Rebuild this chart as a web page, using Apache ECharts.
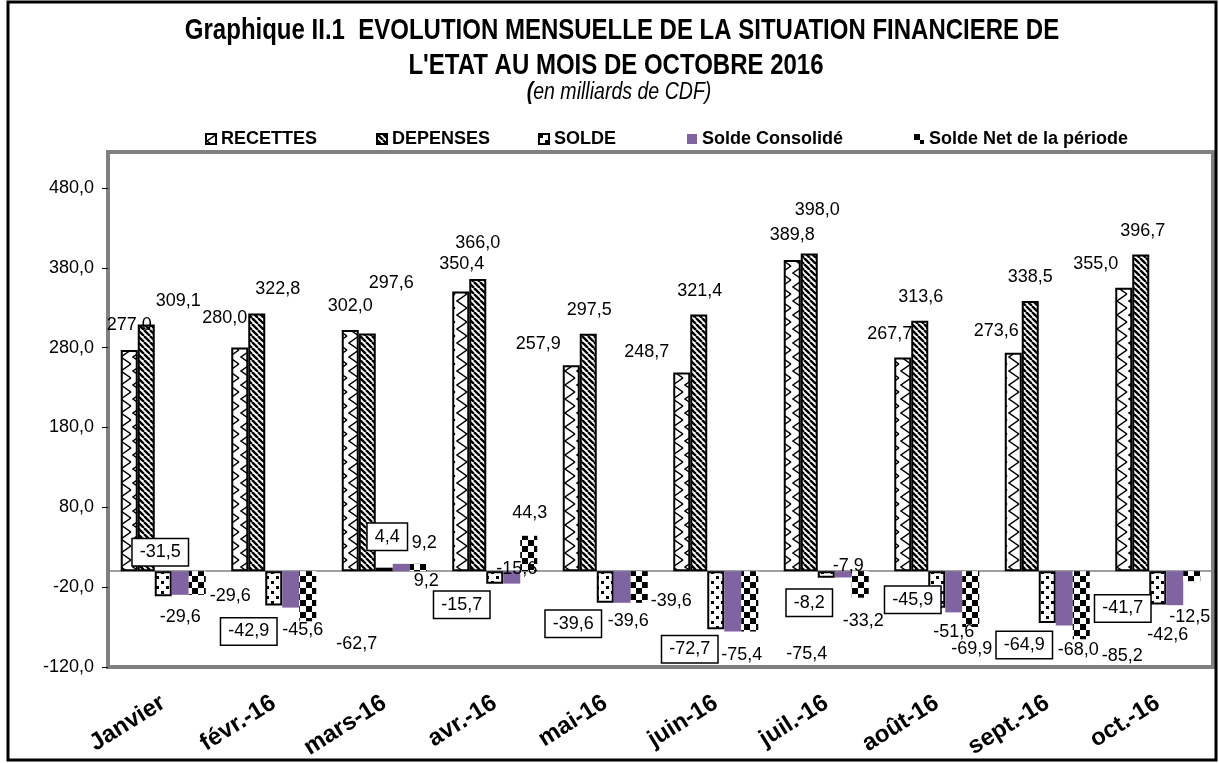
<!DOCTYPE html>
<html>
<head>
<meta charset="utf-8">
<title>Graphique II.1</title>
<script src="https://cdn.jsdelivr.net/npm/echarts@6/dist/echarts.min.js"></script>
<style>
  html, body { margin: 0; padding: 0; background: #fff; }
  #chart { width: 1219px; height: 763px; }
</style>
</head>
<body>
<div id="chart"></div>
<script>
// données (en milliards de CDF)
const months = ["Janvier", "févr.-16", "mars-16", "avr.-16", "mai-16", "juin-16", "juil.-16", "août-16", "sept.-16", "oct.-16"];
const recettes = [277.0, 280.0, 302.0, 350.4, 257.9, 248.7, 389.8, 267.7, 273.6, 355.0];
const depenses = [309.1, 322.8, 297.6, 366.0, 297.5, 321.4, 398.0, 313.6, 338.5, 396.7];
const solde = [-31.5, -42.9, 4.4, -15.7, -39.6, -72.7, -8.2, -45.9, -64.9, -41.7];
const soldeConsolide = [-29.6, -45.6, 9.2, -15.6, -39.6, -75.4, -7.9, -51.6, -68.0, -42.6];
const soldeNet = [-29.6, -62.7, 9.2, 44.3, -39.6, -75.4, -33.2, -69.9, -85.2, -12.5];
const yTicks = [-120, -20, 80, 180, 280, 380, 480];

// label placement (px from the end of each bar), as moved by hand in the original
const offRecettes = [[0, -25], [-15, -30], [0, -24], [1, -27], [-33, -21], [-35, -21], [0, -25], [-13, -23], [-17, -22], [-28, -24]];
const offDepenses = [[32, -23], [21, -24], [24, -51], [0, -36], [1, -24], [1, -24], [8, -43], [1, -24], [0, -24], [2, -23]];
const offSolde = [[-3, -44], [-25, 26], [3, -31], [-33, 21], [-32, 21], [-26, 20], [-17, 25], [-24, -8], [-23, 22], [-35, 4]];
const offConsolide = [[0, 22], [12, 22], [23, -21], [5, -15], [6, 18], [9, 24], [5, -11], [0, 20], [14, 25], [-7, 30]];
const offNet = [[33, 1], [49, 23], [8, 17], [1, -23], [32, -2], [57, 23], [3, 23], [1, 22], [41, 17], [-2, 36]];

const FONT = '"Liberation Sans", Arial, sans-serif';

function fmt(v) {
  return v.toFixed(1).replace('.', ',');
}

function tile(w, h, draw) {
  const c = document.createElement('canvas');
  c.width = w;
  c.height = h;
  const ctx = c.getContext('2d');
  ctx.fillStyle = '#fff';
  ctx.fillRect(0, 0, w, h);
  ctx.fillStyle = '#000';
  ctx.strokeStyle = '#000';
  draw(ctx);
  return { image: c, repeat: 'repeat' };
}

const zigzag = tile(12, 14, ctx => {
  ctx.lineWidth = 1.5;
  ctx.beginPath();
  ctx.moveTo(11, 0);
  ctx.lineTo(1, 7);
  ctx.lineTo(11, 14);
  ctx.stroke();
});
const stripes = tile(6, 6, ctx => {
  ctx.lineWidth = 2.4;
  ctx.beginPath();
  [-6, 0, 6].forEach(k => {
    ctx.moveTo(k, 0);
    ctx.lineTo(k + 6, 6);
  });
  ctx.stroke();
});
const dots = tile(10, 10, ctx => {
  ctx.fillRect(1, 1, 3, 3);
  ctx.fillRect(6, 6, 3, 3);
});
const checker = tile(12, 12, ctx => {
  ctx.fillRect(0, 0, 6, 6);
  ctx.fillRect(6, 6, 6, 6);
});

function barSeries(name, values, offsets, fill, border, boxed) {
  const h = boxed ? 26 : 20;
  return {
    name: name,
    type: 'bar',
    xAxisIndex: 0,
    barWidth: 17,
    barGap: '0%',
    itemStyle: { color: fill, borderColor: '#000', borderWidth: border },
    label: {
      show: true,
      position: 'outside',
      distance: 0,
      formatter: p => fmt(p.value),
      fontFamily: FONT,
      fontSize: 18,
      lineHeight: 20,
      color: '#000',
      backgroundColor: boxed ? '#fff' : 'transparent',
      borderColor: boxed ? '#000' : 'transparent',
      borderWidth: boxed ? 1.5 : 0,
      padding: boxed ? [3, 7] : 0
    },
    data: values.map((v, i) => ({
      value: v,
      label: { offset: [offsets[i][0], offsets[i][1] + (v >= 0 ? h / 2 : -h / 2)] }
    }))
  };
}

function legendAt(name, left) {
  return {
    data: [name],
    left: left,
    top: 125,
    itemWidth: 10,
    itemHeight: 10,
    icon: 'rect',
    textStyle: { fontFamily: FONT, fontSize: 18, fontWeight: 'bold', color: '#000' }
  };
}

function titleText(text, x, y, font, scale, rich) {
  return {
    type: 'text', silent: true, x: x, y: y, scaleX: scale,
    style: {
      text: text, font: font, fill: '#000', rich: rich,
      align: 'center', verticalAlign: 'middle', textAlign: 'center', textVerticalAlign: 'middle'
    }
  };
}

const chart = echarts.init(document.getElementById('chart'));
chart.setOption({
  animation: false,
  backgroundColor: '#fff',
  graphic: [
    {
      type: 'rect', silent: true,
      shape: { x: 8, y: 2, width: 1208, height: 758 },
      style: { fill: 'none', stroke: '#000', lineWidth: 3 }
    },
    titleText('Graphique II.1  EVOLUTION MENSUELLE DE LA SITUATION FINANCIERE DE', 622, 31, 'bold 30px ' + FONT, 0.8),
    titleText("L'ETAT AU MOIS DE OCTOBRE 2016", 616, 66, 'bold 30px ' + FONT, 0.8),
    titleText('{b|(}en milliards de CDF)', 619, 93, 'italic 23px ' + FONT, 0.85,
      { b: { fontWeight: 'bold', fontStyle: 'italic', fontSize: 23, fontFamily: FONT } })
  ],
  legend: [
    legendAt('RECETTES', 200),
    legendAt('DEPENSES', 371),
    legendAt('SOLDE', 533),
    legendAt('Solde Consolidé', 682),
    legendAt('Solde Net de la période', 909)
  ],
  grid: {
    left: 108, right: 6, top: 152, bottom: 96,
    show: true, borderColor: '#808080', borderWidth: 4, backgroundColor: 'transparent'
  },
  xAxis: [
    {
      type: 'category',
      data: months,
      position: 'top',
      axisLine: { onZero: true, lineStyle: { color: '#808080', width: 1.5 } },
      axisTick: { inside: true, length: 7, lineStyle: { color: '#555' } },
      axisLabel: { show: false },
      splitLine: { show: false }
    },
    {
      type: 'category',
      data: months,
      position: 'bottom',
      axisLine: { show: false, onZero: false },
      axisTick: { show: false },
      axisLabel: {
        interval: 0, rotate: 32, margin: 34,
        fontFamily: FONT, fontSize: 24, fontWeight: 'bold', color: '#000'
      },
      splitLine: { show: false }
    }
  ],
  yAxis: {
    type: 'value',
    min: -120,
    max: 525,
    interval: 100,
    axisLine: { show: false },
    splitLine: { show: false },
    axisTick: { show: true, length: 6, lineStyle: { color: '#000' }, customValues: yTicks },
    axisLabel: {
      customValues: yTicks,
      formatter: v => fmt(v), margin: 14,
      fontFamily: FONT, fontSize: 18, color: '#000'
    }
  },
  series: [
    barSeries('RECETTES', recettes, offRecettes, zigzag, 2, false),
    barSeries('DEPENSES', depenses, offDepenses, stripes, 2, false),
    barSeries('SOLDE', solde, offSolde, dots, 2, true),
    barSeries('Solde Consolidé', soldeConsolide, offConsolide, '#8064A2', 0, false),
    barSeries('Solde Net de la période', soldeNet, offNet, checker, 0, false)
  ]
});
</script>
</body>
</html>
